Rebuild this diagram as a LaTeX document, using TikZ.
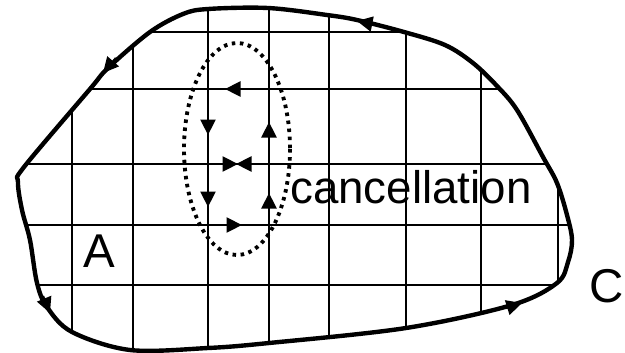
\documentclass[tikz,border=0pt]{standalone}
\usepackage{fontspec}
\setmainfont{Liberation Sans}
\usetikzlibrary{arrows.meta,positioning}
\tikzset{
  boundary/.style={draw=black,line width=2.5pt,line join=round},
  gridline/.style={draw=black,line width=1.1pt},
  tip/.style={-{Triangle[length=3.1mm,width=3mm]},draw=black,line width=1.3pt},
  loopring/.style={draw=black,line width=2.2pt,dash pattern=on 2pt off 2.6pt},
  lbl/.style={anchor=base west,inner sep=0pt}
}
\def\outline{plot[smooth cycle,tension=0.55] coordinates {
  (404,32) (357,20) (327,15) (268,8) (208,9) (183,14) (150,32) (108,68) (90,89)
  (24,167) (18,182) (22,210) (30,240) (37,283) (47,307) (72,332) (130,350)
  (208,348) (269,343) (406,328) (512,305) (557,283) (568,262) (572,240)
  (567,215) (557,183) (543,157) (517,110) (497,86) (473,63) (445,45)}}

\begin{document}
\begin{tikzpicture}[x=0.02cm,y=-0.02cm]
\useasboundingbox (0,0) rectangle (625,352);
% grid, cut to the region
\begin{scope}
\clip \outline;
\foreach \gx in {72,133,208,269,329,406,481,558}
  \draw[gridline] (\gx,0) -- (\gx,352);
\foreach \gy in {32,89,164,225,285}
  \draw[gridline] (0,\gy) -- (625,\gy);
\end{scope}
\draw[boundary] \outline;
% orientation of the boundary
\draw[tip] (372,24) -- (357,21);
\draw[tip] (116,58) -- (103,73);
\draw[tip] (43,296) -- (50,313);
\draw[tip] (506,308) -- (522,303);
% dotted ring round the cancelling pair
\draw[loopring] (237,149) ellipse [x radius=53,y radius=106];
\coordinate (left top) at (208,118);
\coordinate (left mid) at (208,190);
\coordinate (right top) at (269,149);
\coordinate (right mid) at (269,210);
\draw[tip] (253,89) -- (225,89);
\draw[tip] (left top) -- ++(0,17);
\draw[tip] (left mid) -- ++(0,17);
\draw[tip] (right top) -- ++(0,-27);
\draw[tip] (right mid) -- ++(0,-17);
\draw[tip] (221,164) -- (238,164);
\draw[tip] (253,164) -- (236,164);
\draw[tip] (225,225) -- (242,225);
\node[lbl,font=\fontsize{26}{30}\selectfont] (cancel) at (290,203) {cancellation};
\node[lbl,font=\fontsize{27}{31}\selectfont] (regionA) at (83,267) {A};
\node[lbl,font=\fontsize{27}{31}\selectfont] (curveC) at (589,302) {C};
\end{tikzpicture}
\end{document}
